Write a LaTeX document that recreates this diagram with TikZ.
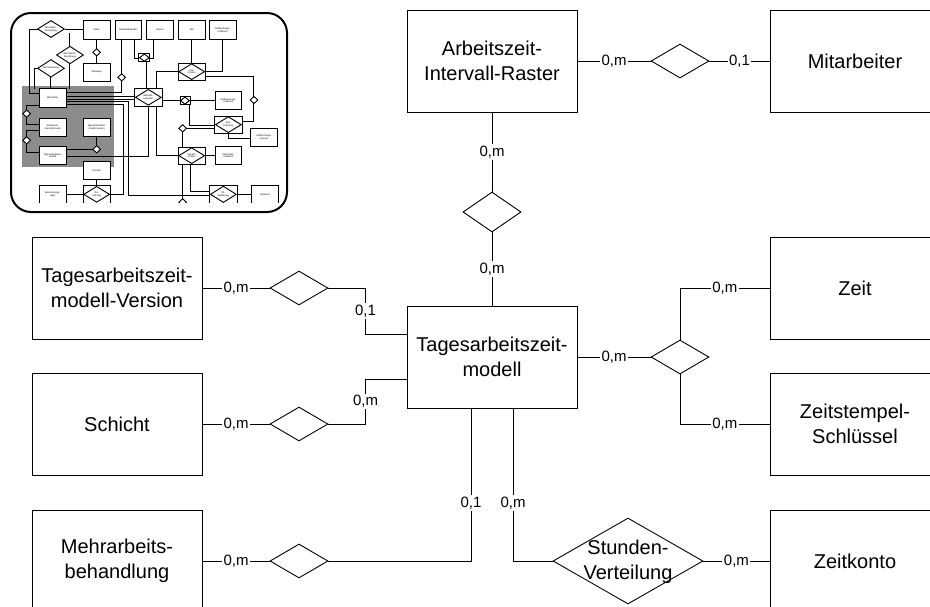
\documentclass[tikz,border=0pt]{standalone}
\usepackage{fontspec}
\setmainfont{Liberation Sans}
\usetikzlibrary{shapes.geometric,calc}
\begin{document}
\begin{tikzpicture}[x=1pt,y=-1pt,
  ent/.style={draw,line width=1pt,fill=white,minimum width=170pt,minimum height=102pt,inner sep=0pt,align=center,font=\fontsize{20}{24.5}\selectfont},
  rel/.style={draw,diamond,line width=0.9pt,fill=white,minimum width=58pt,minimum height=34pt,inner sep=0pt},
  conn/.style={line width=0.9pt},
  card/.style={fill=white,inner sep=1.5pt,font=\fontsize{15}{15}\selectfont},
  reltext/.style={inner sep=0pt,align=center,font=\fontsize{20}{24.5}\selectfont},
  ib/.style={draw,fill=white,line width=0.9pt,minimum width=26.7pt,minimum height=18.3pt,inner sep=0pt,align=center,font=\fontsize{2.4}{2.8}\selectfont},
  irb/.style={draw,fill=white,line width=0.9pt,minimum width=27.3pt,minimum height=17.3pt,inner sep=0pt},
  ird/.style={draw,diamond,fill=white,line width=0.9pt,minimum width=26pt,minimum height=16pt,inner sep=0pt,align=center,font=\fontsize{2.4}{2.8}\selectfont},
  isd/.style={draw,diamond,fill=white,line width=0.9pt,minimum width=8pt,minimum height=7.5pt,inner sep=0pt},
  il/.style={line width=1pt}]
\clip (0,0) rectangle (930,606);
\fill[white] (0,0) rectangle (930,606);

% ---------------- overview inset ----------------
\begin{scope}[x=0.33333pt,y=-0.33333pt]
  \begin{scope}
  \clip (62,55) rectangle (840,607);
  \fill[black!45] (67,258) rectangle (343,500);
  % lines
  \draw[il] (113,87) -- (88,87) -- (88,280) -- (118,280);
  \draw[il] (195,87) -- (250,87);
  \draw[il] (290,118) -- (290,190);
  \draw[il] (210,100) -- (210,268);
  \draw[il] (113,205) -- (105,205) -- (105,268);
  \draw[il] (153,205) -- (153,268);
  \draw[il] (365,118) -- (365,278) -- (198,278);
  \draw[il] (405,118) -- (405,175) -- (420,175);
  \draw[il] (460,118) -- (460,175) -- (447,175);
  \draw[il] (440,175) -- (440,265);
  \draw[il] (575,118) -- (575,190);
  \draw[il] (668,118) -- (668,215) -- (615,215);
  \draw[il] (533,215) -- (470,215) -- (470,265);
  \draw[il] (615,230) -- (762,230) -- (762,365) -- (725,365);
  \draw[il] (198,288) -- (403,288);
  \draw[il] (198,297) -- (403,297);
  \draw[il] (198,305) -- (385,305) -- (385,585) -- (630,585);
  \draw[il] (198,312) -- (370,312) -- (370,583) -- (330,583);
  \draw[il] (487,300) -- (645,300);
  \draw[il] (568,312) -- (568,375) -- (643,375);
  \draw[il] (548,385) -- (643,385);
  \draw[il] (548,385) -- (548,440);
  \draw[il] (685,400) -- (685,415) -- (752,415);
  \draw[il] (198,468) -- (445,468) -- (445,318);
  \draw[il] (470,318) -- (470,465) -- (533,465);
  \draw[il] (615,467) -- (645,467);
  \draw[il] (548,493) -- (548,607);
  \draw[il] (572,493) -- (572,575) -- (630,575);
  \draw[il] (710,583) -- (755,583);
  \draw[il] (198,448) -- (290,448) -- (290,410);
  \draw[il] (118,315) -- (80,315) -- (80,372) -- (118,372);
  \draw[il] (118,392) -- (80,392) -- (80,458) -- (118,458);
  \draw[il] (290,540) -- (290,558);
  \draw[il] (198,583) -- (250,583);
  % entity boxes
  \node[ib] (iStelle) at (290,90) {Stelle};
  \node[ib] (iBk) at (385,90) {Betriebskalender};
  \node[ib] (iDatum) at (480,90) {Datum};
  \node[ib] (iZeit) at (575,90) {Zeit};
  \node[ib] (iZbs) at (668,90) {Zeitbuchungs-\\schlüssel};
  \node[ib] (iAbt) at (290,217) {Abteilung};
  \node[ib] (iMa) at (158,294) {Mitarbeiter};
  \node[ib] (iAir) at (158,382) {Arbeitszeit-\\Intervall-Raster};
  \node[ib] (iTamv) at (290,382) {Tagesarbeitszeit-\\modell-Version};
  \node[ib] (iTam) at (158,467) {Tagesarbeitszeit-\\modell};
  \node[ib] (iPer) at (290,512) {Periode};
  \node[ib] (iBer) at (158,583) {Berechnungs-\\regel};
  \node[ib] (iZk) at (795,583) {Zeitkonto};
  \node[ib] (iZbs2) at (685,302) {Zeitbuchungs-\\schlüssel};
  \node[ib] (iZbn) at (792,412) {Zeitbuchungs-\\nummer};
  \node[ib] (iZkp) at (685,467) {ZK/Posten-\\schlüssel};
  % relationship boxes
  \node[irb] (iRbk) at (445,292) {};
  \node[ird] at (iRbk) {Betriebs-\\kalender};
  \node[irb] (iRzp) at (575,215) {};
  \node[ird] at (iRzp) {Zeit-\\Posten};
  \node[irb] (iRzb) at (685,374) {};
  \node[ird] at (iRzb) {Zeit-\\buchung};
  \node[irb] (iRtzk) at (575,467) {};
  \node[ird] at (iRtzk) {Tag ZK-\\Posten};
  \node[irb] (iRsal) at (670,583) {};
  \node[ird] at (iRsal) {ZK-\\Saldierung};
  \node[irb] (iRzu) at (290,583) {};
  \node[ird] at (iRzu) {Zu-\\ordnung};
  \node[irb,minimum width=11pt,minimum height=8.3pt] (iRs1) at (433,173) {};
  \node[isd,minimum width=10pt,minimum height=7.5pt] at (iRs1) {};
  \node[irb,minimum width=10pt,minimum height=8.3pt] (iRs2) at (555,302) {};
  \node[isd,minimum width=9pt,minimum height=7.5pt] at (iRs2) {};
  % diamonds
  \node[ird,minimum width=27pt,minimum height=17pt] (iD1) at (153,87) {MA-Abteil.-\\Zuordnung};
  \node[ird,minimum width=27pt,minimum height=17pt] (iD2) at (210,165) {MA-Stellen-\\Zuordnung};
  \node[ird,minimum width=27pt,minimum height=17pt] (iD3) at (153,205) {MA-Vertretung};
  \node[isd] (iS1) at (290,157) {};
  \node[isd] (iS2) at (365,232) {};
  \node[isd] (iS3) at (80,341) {};
  \node[isd] (iS4) at (80,421) {};
  \node[isd] (iS5) at (290,448) {};
  \node[isd] (iS6) at (548,385) {};
  \node[isd] (iS7) at (762,300) {};
  \node[isd] (iS8) at (548,607) {};
  \end{scope}
\end{scope}
\draw[line width=2pt,rounded corners=20pt] (11,13) rectangle (287,212);

% ---------------- main diagram ----------------
\node[ent] (air) at (492,61) {Arbeitszeit-\\Intervall-Raster};
\node[ent] (mit) at (855,61) {Mitarbeiter};
\node[rel] (d0) at (680,61) {};
\node[rel,minimum height=40pt] (d1) at (492,212) {};
\node[ent] (tamv) at (117,288) {Tagesarbeitszeit-\\modell-Version};
\node[ent] (tam) at (492,357) {Tagesarbeitszeit-\\modell};
\node[ent] (schicht) at (117,424) {Schicht};
\node[ent] (mab) at (117,561) {Mehrarbeits-\\behandlung};
\node[ent] (zeit) at (855,288) {Zeit};
\node[ent] (zs) at (855,424) {Zeitstempel-\\Schlüssel};
\node[ent] (zk) at (855,561) {Zeitkonto};
\node[rel] (dl1) at (299,288) {};
\node[rel] (dl2) at (299,424) {};
\node[rel] (dl3) at (299,561) {};
\node[rel] (dr) at (680,357) {};
\node[rel,minimum width=150pt,minimum height=86pt] (sv) at (628,561) {};
\node[reltext] (svt) at (628,562) {Stunden-\\Verteilung};

\coordinate (tw1) at ($(tam.west)+(0,-23)$);
\coordinate (tw2) at ($(tam.west)+(0,22)$);
\coordinate (tb1) at ($(tam.south)+(-21,0)$);
\coordinate (tb2) at ($(tam.south)+(21,0)$);

\draw[conn] (air.east) -- node[card]{0,m} (d0.west);
\draw[conn] (d0.east) -- node[card]{0,1} (mit.west);
\draw[conn] (air.south) -- node[card]{0,m} (d1.north);
\draw[conn] (d1.south) -- node[card]{0,m} (tam.north);
\draw[conn] (tamv.east) -- node[card]{0,m} (dl1.west);
\draw[conn] (schicht.east) -- node[card]{0,m} (dl2.west);
\draw[conn] (mab.east) -- node[card]{0,m} (dl3.west);
\draw[conn] (dl1.east) -| node[card,pos=0.75]{0,1} ($(tw1)+(-41,0)$) -- (tw1);
\draw[conn] (dl2.east) -| node[card,pos=0.75]{0,m} ($(tw2)+(-41,0)$) -- (tw2);
\draw[conn] (dl3.east) -| node[card,pos=0.69]{0,1} (tb1);
\draw[conn] (tb2) |- node[card,pos=0.31]{0,m} (sv.west);
\draw[conn] (sv.east) -- node[card]{0,m} (zk.west);
\draw[conn] (tam.east) -- node[card]{0,m} (dr.west);
\draw[conn] (dr.north) |- node[card,pos=0.75]{0,m} (zeit.west);
\draw[conn] (dr.south) |- node[card,pos=0.75]{0,m} (zs.west);
\end{tikzpicture}
\end{document}
